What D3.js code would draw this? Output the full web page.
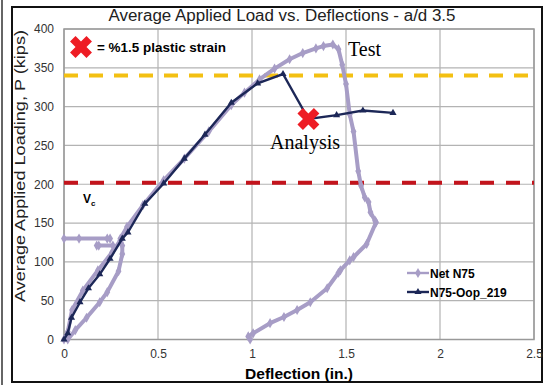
<!DOCTYPE html>
<html>
<head>
<meta charset="utf-8">
<script src="https://cdn.jsdelivr.net/npm/d3@7"></script>
<style>
  body { margin: 0; background: #fff; }
  svg { display: block; }
</style>
</head>
<body>
<svg id="chart"></svg>
<script>
// Net N75 (test) - null breaks the line into separate pieces
const netX = [0, 0.02, 0.043, 0.1, 0.18, 0.255, 0.3, null,
  0, 0.08, 0.23, 0.245, null,
  0.174, 0.185, 0.26, null,
  0.02, 0.06, 0.12, 0.19, 0.23, 0.29, 0.31, 0.31, 0.3, 0.335, 0.42, 0.53, 0.64, 0.77, 0.89, 0.96, 1.04, 1.12, 1.2, 1.27, 1.34, 1.38, 1.43,
  1.46, 1.48, 1.5, 1.52, 1.54, 1.565, 1.58, 1.6, 1.62, 1.63, 1.655, 1.66, 1.61, 1.54, 1.52, 1.47, 1.46, 1.4, 1.31,
  1.24, 1.17, 1.096, 1.006, 0.98, 0.99];
const netP = [0, 10, 38, 63, 89, 112, 128, null,
  130, 130, 130, 130, null,
  121, 121, 121, null,
  0, 12, 28, 48, 61, 88, 110, 121, 130, 145, 173, 205, 233, 268, 302, 318, 335, 349, 361, 369, 375, 378, 380,
  374, 354, 329, 290, 268, 217, 198, 183, 177, 164, 153, 151, 123, 106, 102, 89, 86, 66, 48,
  38, 29, 21, 8, 4, 0];

// N75-Oop_219 (analysis)
const opX = [0, 0.02, 0.04, 0.085, 0.13, 0.19, 0.245, 0.31, 0.34, 0.43, 0.53, 0.64, 0.75, 0.89, 1.03, 1.165, 1.3, 1.45, 1.59, 1.75];
const opP = [0, 8, 28, 48, 66, 84, 104, 130, 138, 175, 201, 233, 264, 305, 330, 342, 284, 289, 295, 292];

// reference lines and the 1.5% plastic strain point
const yieldLoad = 340;
const vcLoad = 202;
const strainPoint = [1.3, 284];

const xTicks = [0, 0.5, 1, 1.5, 2, 2.5];
const yTicks = [0, 50, 100, 150, 200, 250, 300, 350, 400];

const W = 544, H = 385;
const margin = { top: 29, right: 10, bottom: 45.5, left: 64 };
const width = W - margin.left - margin.right;
const height = H - margin.top - margin.bottom;

const svg = d3.select("#chart").attr("width", W).attr("height", H);

// outer frame
svg.append("line").attr("x1", 2).attr("x2", 2).attr("y1", 0).attr("y2", H)
  .attr("stroke", "#666").attr("stroke-width", 2);
svg.append("rect").attr("x", 12).attr("y", 7).attr("width", 530).attr("height", 375)
  .attr("fill", "none").attr("stroke", "#111").attr("stroke-width", 2);

const g = svg.append("g").attr("transform", `translate(${margin.left},${margin.top})`);

// Scales
const x = d3.scaleLinear().domain([0, 2.5]).range([0, width]);
const y = d3.scaleLinear().domain([0, 400]).range([height, 0]);

// Grid
g.selectAll(".vgrid").data(xTicks).enter().append("line")
  .attr("x1", d => x(d)).attr("x2", d => x(d)).attr("y1", 0).attr("y2", height)
  .attr("stroke", "#b3b3b3").attr("stroke-width", 1.2);
g.selectAll(".hgrid").data(yTicks).enter().append("line")
  .attr("x1", 0).attr("x2", width).attr("y1", d => y(d)).attr("y2", d => y(d))
  .attr("stroke", "#b3b3b3").attr("stroke-width", 1.2);
g.append("rect").attr("width", width).attr("height", height)
  .attr("fill", "none").attr("stroke", "#999").attr("stroke-width", 1.5);

// Axes (tick labels only)
const xAxis = g.append("g").attr("transform", `translate(0,${height})`)
  .call(d3.axisBottom(x).tickValues(xTicks).tickSize(0).tickPadding(10).tickFormat(d3.format("")));
const yAxis = g.append("g")
  .call(d3.axisLeft(y).tickValues(yTicks).tickSize(0).tickPadding(10));
[xAxis, yAxis].forEach(a => {
  a.select(".domain").remove();
  a.selectAll("text").attr("fill", "#333").style("font-family", "Liberation Sans, Arial").style("font-size", "12px");
});

// dashed reference lines
g.append("line").attr("x1", 0).attr("x2", width + 5).attr("y1", y(yieldLoad)).attr("y2", y(yieldLoad))
  .attr("stroke", "#f3c012").attr("stroke-width", 4).attr("stroke-dasharray", "14,11");
g.append("line").attr("x1", 0).attr("x2", width).attr("y1", y(vcLoad)).attr("y2", y(vcLoad))
  .attr("stroke", "#c3141c").attr("stroke-width", 4).attr("stroke-dasharray", "14,12");

// Net N75 line
const netData = netX.map((d, i) => [d, netP[i]]);
const line = d3.line().defined(d => d[0] !== null).x(d => x(d[0])).y(d => y(d[1]));
g.append("path").datum(netData).attr("d", line)
  .attr("fill", "none").attr("stroke", "#a79dc6").attr("stroke-width", 4).attr("stroke-linejoin", "round");
g.selectAll(".netpt").data(netData.filter(d => d[0] !== null)).enter().append("path")
  .attr("transform", d => `translate(${x(d[0])},${y(d[1])})`)
  .attr("d", d3.symbol(d3.symbolDiamond, 30)).attr("fill", "#a79dc6");

// N75-Oop_219 line
const opData = opX.map((d, i) => [d, opP[i]]);
g.append("path").datum(opData).attr("d", line)
  .attr("fill", "none").attr("stroke", "#1c2757").attr("stroke-width", 2.4);
g.selectAll(".oppt").data(opData).enter().append("path")
  .attr("transform", d => `translate(${x(d[0])},${y(d[1])})`)
  .attr("d", d3.symbol(d3.symbolTriangle, 22)).attr("fill", "#1c2757");

// red X markers
const cross = d3.symbol(d3.symbolCross, 300);
g.append("path").attr("d", cross).attr("fill", "#ee1c24")
  .attr("transform", `translate(${x(strainPoint[0])},${y(strainPoint[1])}) rotate(45)`);
svg.append("path").attr("d", cross).attr("fill", "#ee1c24")
  .attr("transform", "translate(81,47) rotate(45)");
svg.append("text").attr("x", 97).attr("y", 51.5)
  .style("font-family", "Liberation Sans, Arial").style("font-size", "12.5px").style("font-weight", "bold")
  .attr("textLength", 129).attr("lengthAdjust", "spacingAndGlyphs")
  .text("= %1.5 plastic strain");

// annotations
svg.append("text").attr("x", 348).attr("y", 56)
  .style("font-family", "Liberation Serif, Times New Roman").style("font-size", "20px").text("Test");
svg.append("text").attr("x", 270).attr("y", 149)
  .style("font-family", "Liberation Serif, Times New Roman").style("font-size", "20px").text("Analysis");
const vc = svg.append("text").attr("x", 83).attr("y", 203)
  .style("font-family", "Liberation Sans, Arial").style("font-size", "12px").style("font-weight", "bold");
vc.append("tspan").text("V");
vc.append("tspan").attr("dy", 3).style("font-size", "8px").text("c");

// Title
svg.append("text").attr("x", 282).attr("y", 21).attr("text-anchor", "middle")
  .style("font-family", "Liberation Sans, Arial").style("font-size", "16px").attr("fill", "#222")
  .attr("textLength", 347).attr("lengthAdjust", "spacingAndGlyphs")
  .text("Average Applied Load vs. Deflections - a/d 3.5");

// Axis labels
svg.append("text").attr("x", 299).attr("y", 379).attr("text-anchor", "middle")
  .style("font-family", "Liberation Sans, Arial").style("font-size", "14px").style("font-weight", "bold")
  .attr("textLength", 108).attr("lengthAdjust", "spacingAndGlyphs")
  .text("Deflection (in.)");
svg.append("text").attr("transform", "rotate(-90)").attr("x", -166).attr("y", 25).attr("text-anchor", "middle")
  .style("font-family", "Liberation Sans, Arial").style("font-size", "15px").attr("fill", "#222")
  .attr("textLength", 272).attr("lengthAdjust", "spacingAndGlyphs")
  .text("Average Applied Loading, P (kips)");

// Legend
const legend = svg.append("g").attr("transform", "translate(407,273)");
const series = [
  { name: "Net N75", color: "#a79dc6", sym: d3.symbolDiamond, size: 30 },
  { name: "N75-Oop_219", color: "#1c2757", sym: d3.symbolTriangle, size: 22 }
];
series.forEach((s, i) => {
  const row = legend.append("g").attr("transform", `translate(0,${i * 19})`);
  row.append("line").attr("x1", 0).attr("x2", 22).attr("stroke", s.color).attr("stroke-width", 2.4);
  row.append("path").attr("transform", "translate(11,0)").attr("d", d3.symbol(s.sym, s.size)).attr("fill", s.color);
  row.append("text").attr("x", 23).attr("y", 4.5)
    .style("font-family", "Liberation Sans, Arial").style("font-size", "12px").style("font-weight", "bold")
    .text(s.name);
});
</script>
</body>
</html>
